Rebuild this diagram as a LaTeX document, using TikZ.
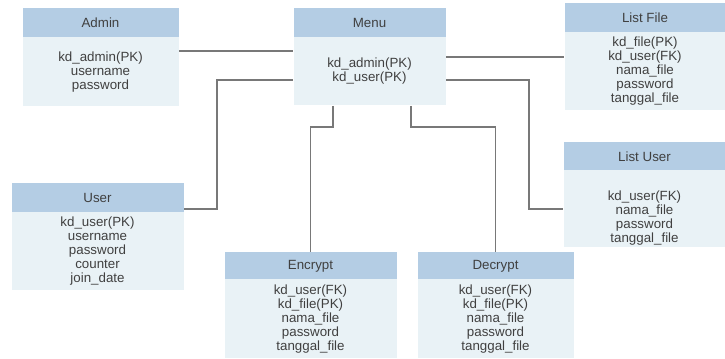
\documentclass[tikz,border=0pt]{standalone}
\usepackage{fontspec}
\setmainfont{Liberation Sans}
\definecolor{headblue}{RGB}{180,205,228}
\definecolor{bodyblue}{RGB}{233,242,246}
\definecolor{textgray}{RGB}{64,64,64}
\definecolor{linegray}{RGB}{120,120,120}
\tikzset{every picture/.style={line width=0.75pt}}
\tikzset{
  tabhead/.style={anchor=north west,fill=headblue,inner sep=0pt,text=textgray,
    font=\fontsize{10}{10.5}\selectfont},
  tabbody/.style={anchor=north west,fill=bodyblue,inner sep=0pt,text=textgray,
    align=center,font=\fontsize{10}{10.5}\selectfont},
  link/.style={draw=linegray,line width=0.9pt}
}
\begin{document}
\begin{tikzpicture}[x=0.75pt,y=0.75pt,yscale=-1,xscale=1]
\useasboundingbox (0,0) rectangle (725,359);

% tables
\node [tabhead,minimum width=117pt,minimum height=21.75pt] (adminh) at (22,8) {Admin};
\node [tabbody,minimum width=117pt,minimum height=51.75pt] (adminb) at (22,37) {kd\_admin(PK)\\username\\password};

\node [tabhead,minimum width=114pt,minimum height=21.75pt] (menuh) at (293,8) {Menu};
\node [tabbody,minimum width=114pt,minimum height=51pt] (menub) at (293,37) {kd\_admin(PK)\\kd\_user(PK)};

\node [tabhead,minimum width=120.75pt,minimum height=21.75pt] (listfileh) at (564,3) {List File};
\node [tabbody,minimum width=120.75pt,minimum height=58.5pt] (listfileb) at (564,32) {kd\_file(PK)\\kd\_user(FK)\\nama\_file\\password\\tanggal\_file};

\node [tabhead,minimum width=121.5pt,minimum height=21pt] (listuserh) at (563,142) {List User};
\node [tabbody,minimum width=121.5pt,minimum height=57.75pt] (listuserb) at (563,170) {\\[10pt]kd\_user(FK)\\nama\_file\\password\\tanggal\_file};

\node [tabhead,minimum width=129pt,minimum height=21.75pt] (userh) at (11,183) {User};
\node [tabbody,minimum width=129pt,minimum height=58.5pt] (userb) at (11,212) {kd\_user(PK)\\username\\password\\counter\\join\_date};

\node [tabhead,minimum width=129pt,minimum height=20.25pt] (encrypth) at (224,252) {Encrypt};
\node [tabbody,minimum width=129pt,minimum height=59.25pt] (encryptb) at (224,279) {kd\_user(FK)\\kd\_file(PK)\\nama\_file\\password\\tanggal\_file};

\node [tabhead,minimum width=117pt,minimum height=20.25pt] (decrypth) at (417,252) {Decrypt};
\node [tabbody,minimum width=117pt,minimum height=59.25pt] (decryptb) at (417,279) {kd\_user(FK)\\kd\_file(PK)\\nama\_file\\password\\tanggal\_file};

% relations
\draw [link] (adminb.east |- 0,51) -- (menub.west |- 0,51);
\draw [link] (menub.west |- 0,80) -- (217,80) |- (userh.east |- 0,209);
\draw [link] (menub.south -| 333,0) -- (333,127) -| (encrypth.north);
\draw [link] (menub.south -| 411,0) -- (411,127) -| (decrypth.north);
\draw [link] (menub.east |- 0,57) -- (listfileb.west |- 0,57);
\draw [link] (menub.east |- 0,80) -- (529,80) |- (listuserb.west |- 0,209);

\end{tikzpicture}
\end{document}
